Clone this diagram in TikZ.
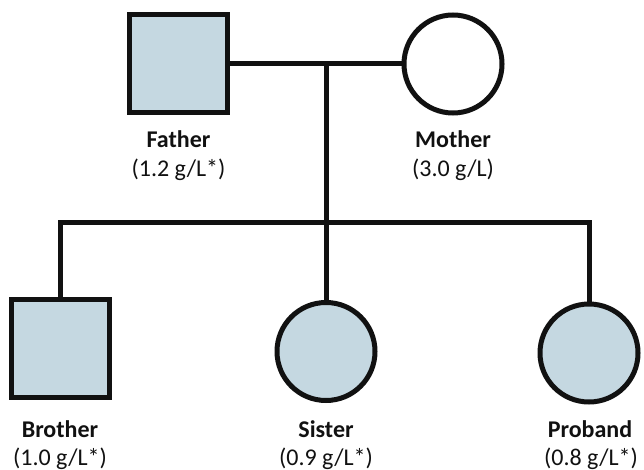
\documentclass[tikz,border=0pt]{standalone}
\usepackage{fontspec}
\setmainfont{Carlito}
\definecolor{affected}{RGB}{197,216,225}
\definecolor{inkline}{RGB}{17,17,17}
\begin{document}
\begin{tikzpicture}[x=1pt,y=-1pt,
  male/.style={rectangle,draw=inkline,line width=5pt,minimum size=98pt,inner sep=0pt},
  female/.style={circle,draw=inkline,line width=5pt,minimum size=98pt,inner sep=0pt},
  aff/.style={fill=affected},
  unaff/.style={fill=white},
  conn/.style={draw=inkline,line width=5pt,line join=miter},
  nm/.style={anchor=base,inner sep=0pt,text=inkline,font=\fontsize{24}{29}\selectfont\bfseries},
  val/.style={anchor=base,inner sep=0pt,text=inkline,font=\fontsize{24}{29}\selectfont}]
\useasboundingbox[fill=white] (0,0) rectangle (644,470);
% individuals
\node[male,aff] (father) at (178.5,64) {};
\node[female,unaff] (mother) at (453,64) {};
\node[male,aff] (brother) at (60,348) {};
\node[female,aff] (sister) at (326,351.5) {};
\node[female,aff] (proband) at (589,353) {};
% connectors
\coordinate (mate) at (326,64);
\coordinate (sib) at (326,222);
\draw[conn] (father.east) -- (mother.west);
\draw[conn] (mate) -- (sib);
\draw[conn] (brother.north) |- (sib) -| (proband.north);
\draw[conn] (sib) -- (sister.north);
% labels
\node[nm] (fatherN) at (178.5,148) {Father};
\node[val] (fatherV) at (178.5,177) {(1.2 g/L*)};
\node[nm] (motherN) at (453,148) {Mother};
\node[val] (motherV) at (453,177) {(3.0 g/L)};
\node[nm] (brotherN) at (60,437) {Brother};
\node[val] (brotherV) at (60,465) {(1.0 g/L*)};
\node[nm] (sisterN) at (326,437) {Sister};
\node[val] (sisterV) at (326,465) {(0.9 g/L*)};
\node[nm] (probandN) at (590,437) {Proband};
\node[val] (probandV) at (591,465) {(0.8 g/L*)};
\end{tikzpicture}
\end{document}
